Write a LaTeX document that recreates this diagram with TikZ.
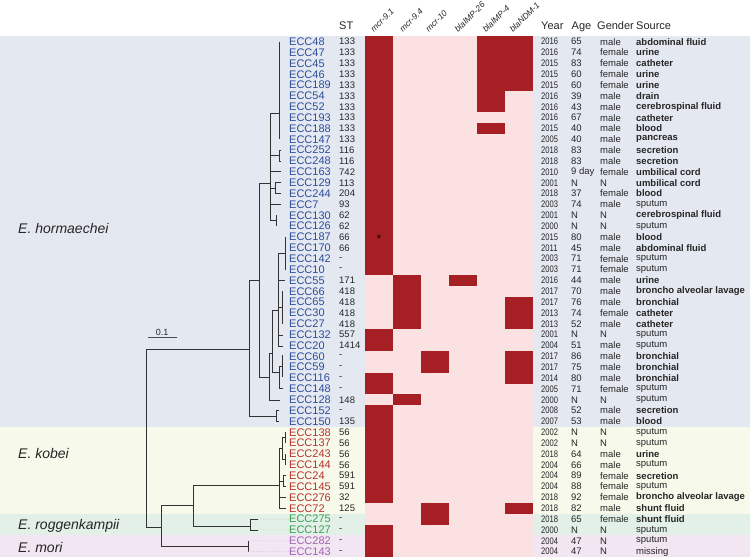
\documentclass[tikz,border=0pt]{standalone}
\usepackage{fontspec}
\setmainfont{Liberation Sans}
\usepackage{graphicx}
\definecolor{hormbg}{HTML}{E4E8F1}
\definecolor{kobbg}{HTML}{F7F9EA}
\definecolor{roggbg}{HTML}{E2F0E8}
\definecolor{moribg}{HTML}{F2E6F2}
\definecolor{heatlo}{HTML}{FBE1E1}
\definecolor{heathi}{HTML}{A51F24}
\definecolor{hormtx}{HTML}{2C4D9C}
\definecolor{kobtx}{HTML}{B7312C}
\definecolor{roggtx}{HTML}{35A150}
\definecolor{moritx}{HTML}{A064B4}
\newcommand{\band}[3]{\fill[#1] (0,{36.3+10.85*#2}) rectangle (750,{36.3+10.85*(#3+1)});}
\newcommand{\hit}[3]{\fill[heathi] ({365+28*#1},{36.3+10.85*#2}) rectangle ({393+28*#1},{36.3+10.85*(#3+1)});}
\newcommand{\isolate}[8]{%
\node[lab,text=#3] (ecc#2) at (289,{41.7+10.85*#1}) {ECC#2};
\node[num] (st#2) at (339,{41.7+10.85*#1}) {#4};
\node[num] (yr#2) at (541,{41.7+10.85*#1}) {\scalebox{0.8}[1]{#5}};
\node[num] (age#2) at (571,{41.7+10.85*#1}) {#6};
\node[num] (sex#2) at (600,{41.7+10.85*#1}) {#7};
\node[num] (src#2) at (636,{41.7+10.85*#1}) {#8};}

\begin{document}
\begin{tikzpicture}[x=1pt, y=-1pt,
  lab/.style={anchor=west, inner sep=0pt, font=\fontsize{11}{12}\selectfont},
  num/.style={anchor=west, inner sep=0pt, text=black!85, font=\fontsize{9.5}{10}\selectfont},
  hdr/.style={anchor=base west, inner sep=0pt, text=black!85, font=\fontsize{11}{12}\selectfont},
  gene/.style={anchor=base west, inner sep=0pt, rotate=45, text=black!85, font=\itshape\fontsize{8.5}{9}\selectfont},
  species/.style={anchor=west, inner sep=0pt, text=black!85, font=\itshape\fontsize{14}{15}\selectfont},
  tree/.style={draw=black!80, line width=0.8pt},
  leader/.style={draw=gray!70, dotted, line width=0.5pt}]
\useasboundingbox (0,0) rectangle (750,559);
\band{hormbg}{0}{35}
\band{kobbg}{36}{43}
\band{roggbg}{44}{45}
\band{moribg}{46}{47}
\fill[heatlo] (365,36.3) rectangle (533,557.1);
\hit{0}{0}{21}
\hit{4}{0}{6}
\hit{5}{0}{4}
\hit{4}{8}{8}
\hit{1}{22}{26}
\hit{3}{22}{22}
\hit{5}{24}{26}
\hit{0}{27}{28}
\hit{2}{29}{30}
\hit{5}{29}{31}
\hit{0}{31}{32}
\hit{1}{33}{33}
\hit{0}{34}{42}
\hit{2}{43}{44}
\hit{5}{43}{43}
\hit{0}{45}{47}
\node[inner sep=0pt, font=\fontsize{11}{12}\selectfont] (star) at (379,239) {*};

\node[hdr] (hST) at (339,29.5) {ST};
\node[hdr] (hYear) at (541,29.5) {Year};
\node[hdr] (hAge) at (571.5,29.5) {Age};
\node[hdr] (hGender) at (597,29.5) {Gender};
\node[hdr] (hSource) at (636,29.5) {Source};
\node[gene] (g1) at (374,33) {mcr-9.1};
\node[gene] (g2) at (403,33) {mcr-9.4};
\node[gene] (g3) at (429,33) {mcr-10};
\node[gene] (g4) at (458,33) {blaIMP-26};
\node[gene] (g5) at (486,33) {blaIMP-4};
\node[gene] (g6) at (513,33) {blaNDM-1};

\node[species] (horm) at (18,228) {E. hormaechei};
\node[species] (kob) at (18,453) {E. kobei};
\node[species] (rogg) at (18,525.5) {E. roggenkampii};
\node[species] (mori) at (18,547) {E. mori};

\isolate{0}{48}{hormtx}{133}{2016}{65}{male}{\textbf{abdominal fluid}}
\isolate{1}{47}{hormtx}{133}{2016}{74}{female}{\textbf{urine}}
\isolate{2}{45}{hormtx}{133}{2015}{83}{female}{\textbf{catheter}}
\isolate{3}{46}{hormtx}{133}{2015}{60}{female}{\textbf{urine}}
\isolate{4}{189}{hormtx}{133}{2015}{60}{female}{\textbf{urine}}
\isolate{5}{54}{hormtx}{133}{2016}{39}{male}{\textbf{drain}}
\isolate{6}{52}{hormtx}{133}{2016}{43}{male}{\textbf{cerebrospinal fluid}}
\isolate{7}{193}{hormtx}{133}{2016}{67}{male}{\textbf{catheter}}
\isolate{8}{188}{hormtx}{133}{2015}{40}{male}{\textbf{blood}}
\isolate{9}{147}{hormtx}{133}{2005}{40}{male}{\textbf{pancreas}}
\isolate{10}{252}{hormtx}{116}{2018}{83}{male}{\textbf{secretion}}
\isolate{11}{248}{hormtx}{116}{2018}{83}{male}{\textbf{secretion}}
\isolate{12}{163}{hormtx}{742}{2010}{9 day}{female}{\textbf{umbilical cord}}
\isolate{13}{129}{hormtx}{113}{2001}{N}{N}{\textbf{umbilical cord}}
\isolate{14}{244}{hormtx}{204}{2018}{37}{female}{\textbf{blood}}
\isolate{15}{7}{hormtx}{93}{2003}{74}{male}{sputum}
\isolate{16}{130}{hormtx}{62}{2001}{N}{N}{\textbf{cerebrospinal fluid}}
\isolate{17}{126}{hormtx}{62}{2000}{N}{N}{sputum}
\isolate{18}{187}{hormtx}{66}{2015}{80}{male}{\textbf{blood}}
\isolate{19}{170}{hormtx}{66}{2011}{45}{male}{\textbf{abdominal fluid}}
\isolate{20}{142}{hormtx}{-}{2003}{71}{female}{sputum}
\isolate{21}{10}{hormtx}{-}{2003}{71}{female}{sputum}
\isolate{22}{55}{hormtx}{171}{2016}{44}{male}{\textbf{urine}}
\isolate{23}{66}{hormtx}{418}{2017}{70}{male}{\textbf{broncho alveolar lavage}}
\isolate{24}{65}{hormtx}{418}{2017}{76}{male}{\textbf{bronchial}}
\isolate{25}{30}{hormtx}{418}{2013}{74}{female}{\textbf{catheter}}
\isolate{26}{27}{hormtx}{418}{2013}{52}{male}{\textbf{catheter}}
\isolate{27}{132}{hormtx}{557}{2001}{N}{N}{sputum}
\isolate{28}{20}{hormtx}{1414}{2004}{51}{male}{sputum}
\isolate{29}{60}{hormtx}{-}{2017}{86}{male}{\textbf{bronchial}}
\isolate{30}{59}{hormtx}{-}{2017}{75}{male}{\textbf{bronchial}}
\isolate{31}{116}{hormtx}{-}{2014}{80}{male}{\textbf{bronchial}}
\isolate{32}{148}{hormtx}{-}{2005}{71}{female}{sputum}
\isolate{33}{128}{hormtx}{148}{2000}{N}{N}{sputum}
\isolate{34}{152}{hormtx}{-}{2008}{52}{male}{\textbf{secretion}}
\isolate{35}{150}{hormtx}{135}{2007}{53}{male}{\textbf{blood}}
\isolate{36}{138}{kobtx}{56}{2002}{N}{N}{sputum}
\isolate{37}{137}{kobtx}{56}{2002}{N}{N}{sputum}
\isolate{38}{243}{kobtx}{56}{2018}{64}{male}{\textbf{urine}}
\isolate{39}{144}{kobtx}{56}{2004}{66}{male}{sputum}
\isolate{40}{24}{kobtx}{591}{2004}{89}{female}{\textbf{secretion}}
\isolate{41}{145}{kobtx}{591}{2004}{88}{female}{sputum}
\isolate{42}{276}{kobtx}{32}{2018}{92}{female}{\textbf{broncho alveolar lavage}}
\isolate{43}{72}{kobtx}{125}{2018}{82}{male}{\textbf{shunt fluid}}
\isolate{44}{275}{roggtx}{-}{2018}{65}{female}{\textbf{shunt fluid}}
\isolate{45}{127}{roggtx}{-}{2000}{N}{N}{sputum}
\isolate{46}{282}{moritx}{-}{2004}{47}{N}{sputum}
\isolate{47}{143}{moritx}{-}{2004}{47}{N}{missing}

\draw[tree] (249.3,349) -| (146,527.3) -- (161,527.3);
\draw[tree] (259.3,280) -| (249.3,416.7) -- (276,416.7);
\draw[tree] (279,410.6) -| (276,421.5) -- (279,421.5);
\draw[tree] (270.7,183) -| (259.3,377.3) -- (269.3,377.3);
\draw[tree] (279.3,113) -| (270.7,220.7) -- (276,220.7);
\draw[tree] (279.3,41.7) -- (279.3,139.4);
\draw[tree] (270.7,155.6) -- (279.3,155.6);
\draw[tree] (281,150.2) -| (279.3,161.1) -- (281,161.1);
\draw[tree] (270.7,171.9) -- (281,171.9);
\draw[tree] (270.7,188.2) -- (275,188.2);
\draw[tree] (281,182.7) -| (275,193.6) -- (281,193.6);
\draw[tree] (270.7,204.5) -- (281,204.5);
\draw[tree] (276,215.3) -- (276,226.2);
\draw[tree] (272.7,353.3) -| (269.3,400) -- (280,400);
\draw[tree] (278.3,310) -| (272.7,372) -- (279.3,372);
\draw[tree] (285.7,253) -| (278.3,346) -- (282.7,346);
\draw[tree] (285.7,237) -- (285.7,269.6);
\draw[tree] (278.3,280.4) -- (285,280.4);
\draw[tree] (278.3,307.6) -- (282.7,307.6);
\draw[tree] (282.7,291.3) -- (282.7,323.9);
\draw[tree] (278.3,335.1) -- (282.7,335.1);
\draw[tree] (282.7,366.2) -| (279.3,388) -- (282.7,388);
\draw[tree] (282.7,355.4) -- (282.7,377.1);
\draw[tree] (193.3,505.7) -| (161,546.7) -- (248.3,546.7);
\draw[tree] (279.3,485.7) -| (193.3,526) -- (250,526);
\draw[tree] (282.7,448.6) -| (279.3,508.3) -- (286,508.3);
\draw[tree] (279.3,481.1) -- (283.7,481.1);
\draw[tree] (279.3,497.4) -- (286,497.4);
\draw[tree] (285.7,437.8) -| (282.7,459.5) -- (285.7,459.5);
\draw[tree] (285.7,432.3) -- (285.7,443.2);
\draw[tree] (285.7,454) -- (285.7,464.9);
\draw[tree] (286,475.7) -| (283.7,486.6) -- (286,486.6);
\draw[tree] (258,519.1) -| (250,529.9) -- (258,529.9);
\draw[tree] (248.3,540.8) -- (248.3,551.7);
\draw[leader] (258,519.1) -- (ecc275.west);
\draw[leader] (258,529.9) -- (ecc127.west);
\draw[leader] (248.3,540.8) -- (ecc282.west);
\draw[leader] (248.3,551.7) -- (ecc143.west);

\draw[draw=black!70, line width=1pt] (147.7,337.7) -- (176.7,337.7) node[midway, above=2pt, inner sep=0pt, text=black!85, font=\fontsize{9}{10}\selectfont] (scale) {0.1};
\end{tikzpicture}
\end{document}
